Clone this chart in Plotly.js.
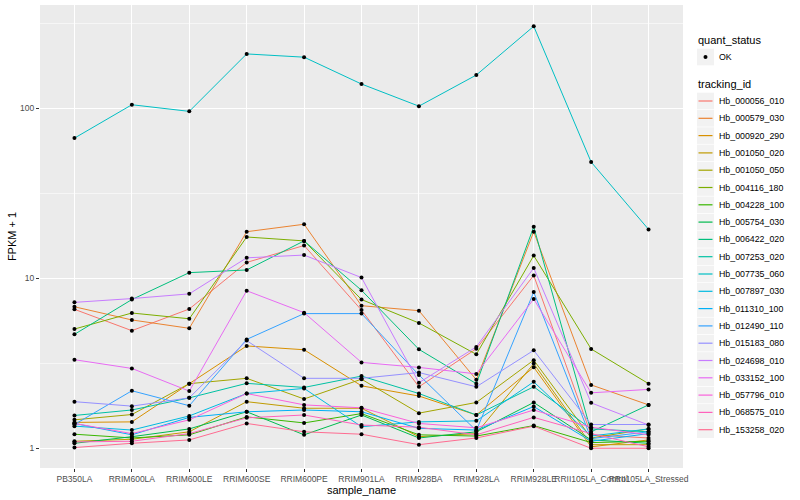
<!DOCTYPE html>
<html>
<head>
<meta charset="utf-8">
<script src="https://cdn.plot.ly/plotly-3.0.1.min.js"></script>
<style>html,body{margin:0;padding:0;background:#fff;}#chart{width:800px;height:500px;}</style>
</head>
<body>
<div id="chart"></div>
<script>
// Categories (x axis)
const categories = ['PB350LA','RRIM600LA','RRIM600LE','RRIM600SE','RRIM600PE','RRIM901LA','RRIM928BA','RRIM928LA','RRIM928LE','RRII105LA_Control','RRII105LA_Stressed'];

// Series names and colours
const trackingIds = ['Hb_000056_010','Hb_000579_030','Hb_000920_290','Hb_001050_020','Hb_001050_050','Hb_004116_180','Hb_004228_100','Hb_005754_030','Hb_006422_020','Hb_007253_020','Hb_007735_060','Hb_007897_030','Hb_011310_100','Hb_012490_110','Hb_015183_080','Hb_024698_010','Hb_033152_100','Hb_057796_010','Hb_068575_010','Hb_153258_020'];
const seriesColors = ['#F8766D','#EA8331','#D89000','#C09B00','#A3A500','#7CAE00','#39B600','#00BB4E','#00BF7D','#00C1A3','#00BFC4','#00BAE0','#00B0F6','#35A2FF','#9590FF','#C77CFF','#E76BF3','#FA62DB','#FF62BC','#FF6C91'];
const quantStatus = ['OK'];

// FPKM + 1 values, one array per tracking_id (order of categories)
const hb_000056_010 = [6.57, 4.92, 6.6, 12.4, 15.6, 6.5, 2.30, 3.85, 10.4, 1.2, 1.15];
const hb_000579_030 = [6.8, 5.69, 5.08, 18.8, 20.8, 6.9, 6.45, 2.53, 18.8, 2.36, 1.8];
const hb_000920_290 = [1.42, 1.43, 2.4, 4.0, 3.8, 2.33, 2.03, 1.57, 3.0, 1.02, 1.12];
const hb_001050_020 = [1.1, 1.13, 1.25, 1.88, 1.72, 1.72, 1.17, 1.22, 3.15, 1.05, 1.05];
const hb_001050_050 = [1.47, 1.58, 2.4, 2.58, 1.95, 2.55, 1.61, 1.86, 3.3, 1.15, 1.3];
const hb_004116_180 = [5.03, 6.25, 5.78, 17.5, 16.6, 7.5, 5.46, 3.57, 13.6, 3.84, 2.4];
const hb_004228_100 = [1.21, 1.15, 1.2, 1.53, 1.41, 1.6, 1.2, 1.18, 1.36, 1.08, 1.1];
const hb_005754_030 = [1.07, 1.17, 1.3, 1.64, 1.2, 1.57, 1.15, 1.25, 1.86, 1.12, 1.07];
const hb_006422_020 = [4.68, 7.5, 10.8, 11.2, 16.6, 8.5, 3.82, 2.4, 20.1, 1.25, 1.8];
const hb_007253_020 = [1.56, 1.68, 1.98, 2.41, 2.28, 2.66, 2.1, 1.57, 2.3, 1.3, 1.25];
const hb_007735_060 = [66.8, 105, 96, 209, 200, 139, 103, 157, 304, 48.3, 19.4];
const hb_007897_030 = [1.35, 1.28, 1.55, 2.1, 2.25, 1.34, 1.43, 1.45, 2.46, 1.18, 1.3];
const hb_011310_100 = [1.4, 1.2, 1.52, 1.64, 1.68, 1.64, 1.31, 1.28, 1.76, 1.1, 1.22];
const hb_012490_110 = [1.38, 2.18, 1.78, 4.37, 6.2, 6.2, 2.7, 1.27, 8.3, 1.14, 1.25];
const hb_015183_080 = [1.88, 1.77, 1.98, 4.3, 2.58, 2.58, 2.79, 2.3, 3.77, 1.38, 1.38];
const hb_024698_010 = [7.22, 7.6, 8.1, 13.2, 13.7, 10.1, 2.43, 3.95, 11.5, 1.85, 1.37];
const hb_033152_100 = [3.32, 2.95, 2.17, 8.45, 6.28, 3.2, 2.99, 2.74, 7.55, 2.12, 2.22];
const hb_057796_010 = [1.4, 1.22, 1.47, 2.1, 1.8, 1.73, 1.4, 1.32, 1.68, 1.33, 1.2];
const hb_068575_010 = [1.09, 1.1, 1.22, 1.51, 1.57, 1.37, 1.33, 1.2, 1.52, 1.22, 1.02];
const hb_153258_020 = [1.01, 1.07, 1.12, 1.4, 1.25, 1.21, 1.05, 1.15, 1.35, 1.0, 1.0];

const seriesValues = [hb_000056_010, hb_000579_030, hb_000920_290, hb_001050_020, hb_001050_050, hb_004116_180, hb_004228_100, hb_005754_030, hb_006422_020, hb_007253_020, hb_007735_060, hb_007897_030, hb_011310_100, hb_012490_110, hb_015183_080, hb_024698_010, hb_033152_100, hb_057796_010, hb_068575_010, hb_153258_020];

const yTickVals = [1, 10, 100];
const yTickText = ['1', '10', '100'];
const yMinorVals = [3.1623, 31.623, 316.23];

const FONT = 'Liberation Sans, Arial, sans-serif';
const W = 800, H = 500;
const M = {l: 40, r: 117, t: 5, b: 32};
const PW = W - M.l - M.r, PH = H - M.t - M.b;
const px = v => (v - M.l) / PW;       // pixel x -> paper x
const py = v => (H - M.b - v) / PH;   // pixel y -> paper y

const traces = [];
trackingIds.forEach((id, i) => {
  traces.push({
    type: 'scatter', mode: 'lines', x: categories, y: seriesValues[i],
    name: id, showlegend: false,
    line: {color: seriesColors[i], width: 1}
  });
});
// all points (quant_status = OK)
const ptsX = [], ptsY = [];
seriesValues.forEach(vals => vals.forEach((v, j) => { ptsX.push(categories[j]); ptsY.push(v); }));
traces.push({
  type: 'scatter', mode: 'markers', x: ptsX, y: ptsY, name: quantStatus[0], showlegend: false,
  marker: {color: '#000000', size: 4}
});

// legend drawn as shapes + annotations (ggplot-like keys)
const shapes = [], annotations = [];
const keyX0 = 697, keyX1 = 714, keyH = 16.6, labelX = 716.5;
function legendTitle(text, yc) {
  annotations.push({xref: 'paper', yref: 'paper', x: px(696), y: py(yc), xanchor: 'left', yanchor: 'middle',
    showarrow: false, text: text, font: {family: FONT, size: 11, color: '#000000'}});
}
function keyBox(yc) {
  shapes.push({type: 'rect', xref: 'paper', yref: 'paper', x0: px(keyX0), x1: px(keyX1),
    y0: py(yc - keyH / 2), y1: py(yc + keyH / 2), fillcolor: '#F2F2F2', line: {width: 0}, layer: 'above'});
}
function keyLabel(text, yc) {
  annotations.push({xref: 'paper', yref: 'paper', x: px(labelX), y: py(yc), xanchor: 'left', yanchor: 'middle',
    showarrow: false, text: text, font: {family: FONT, size: 8.8, color: '#000000'}});
}
legendTitle('quant_status', 40.5);
keyBox(57);
shapes.push({type: 'circle', xref: 'paper', yref: 'paper', x0: px(703.5), x1: px(707.5), y0: py(59), y1: py(55),
  fillcolor: '#000000', line: {width: 0}, layer: 'above'});
keyLabel(quantStatus[0], 57);
legendTitle('tracking_id', 84.5);
trackingIds.forEach((id, i) => {
  const yc = 101 + 17.3 * i;
  keyBox(yc);
  shapes.push({type: 'line', xref: 'paper', yref: 'paper', x0: px(698.5), x1: px(712.5), y0: py(yc), y1: py(yc),
    line: {color: seriesColors[i], width: 1.2}, layer: 'above'});
  keyLabel(id, yc);
});

const layout = {
  width: W, height: H,
  margin: {l: M.l, r: M.r, t: M.t, b: M.b, pad: 0},
  paper_bgcolor: '#FFFFFF', plot_bgcolor: '#EBEBEB',
  font: {family: FONT, size: 8.5, color: '#4D4D4D'},
  showlegend: false,
  shapes: shapes, annotations: annotations,
  xaxis: {
    type: 'category', range: [-0.6, 10.6], automargin: false,
    showgrid: true, gridcolor: '#FFFFFF', gridwidth: 1.07, zeroline: false, showline: false,
    ticks: 'outside', ticklen: 3, tickcolor: '#333333', tickwidth: 1,
    tickangle: 0, tickfont: {family: FONT, size: 8.5, color: '#4D4D4D'},
    title: {text: 'sample_name', font: {family: FONT, size: 11, color: '#000000'}, standoff: 3}
  },
  yaxis: {
    type: 'log', range: [-0.116, 2.608], automargin: false,
    tickmode: 'array', tickvals: yTickVals, ticktext: yTickText,
    showgrid: true, gridcolor: '#FFFFFF', gridwidth: 1.07, zeroline: false, showline: false,
    ticks: 'outside', ticklen: 3, tickcolor: '#333333', tickwidth: 1,
    tickfont: {family: FONT, size: 8.5, color: '#4D4D4D'},
    minor: {tickmode: 'array', tickvals: yMinorVals, showgrid: true, gridcolor: '#FFFFFF', gridwidth: 0.55},
    title: {text: 'FPKM + 1', font: {family: FONT, size: 11, color: '#000000'}, standoff: 1}
  }
};

Plotly.newPlot('chart', traces, layout, {displayModeBar: false, staticPlot: true});
</script>
</body>
</html>
